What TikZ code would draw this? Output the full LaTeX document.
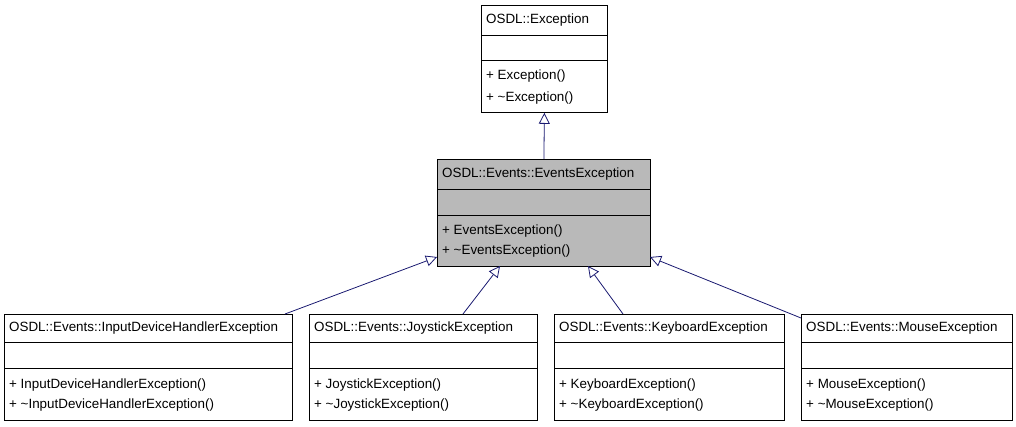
\documentclass[tikz,border=0pt]{standalone}
\usepackage{fontspec}
\setmainfont{Liberation Sans}
\usetikzlibrary{arrows.meta}
\begin{document}
\begin{tikzpicture}[x=1pt,y=-1pt,
  box/.style={draw=black,fill=white,line width=0.8pt},
  txt/.style={anchor=west,inner sep=0pt,font=\fontsize{13.4}{15}\selectfont},
  inh/.style={draw={rgb,255:red,25;green,25;blue,112},line width=0.8pt,-{Triangle[open,length=11pt,width=11pt]}}]
\useasboundingbox (0,0) rectangle (1016,427);
\newcommand{\umlbox}[9]{%
  \node[box,fill=#9,minimum width=#3-#2,minimum height=#7-#4,inner sep=0pt,anchor=north west] (#1) at (#2,#4) {};
  \draw (#2,#5) -- (#3,#5) (#2,#6) -- (#3,#6);
  \node[txt] (#1t) at (#2+5,{(#4+#5)/2}) {#8};
}
\umlbox{ex}{481}{607}{5}{35}{60}{112}{OSDL::Exception}{white}
\node[txt] (ex1) at (486,76) {+ Exception()};
\node[txt] (ex2) at (486,98) {+ \textasciitilde Exception()};
\umlbox{ev}{437}{650}{159}{189}{215}{266}{OSDL::Events::EventsException}{gray!55}
\node[txt] (ev1) at (442,231) {+ EventsException()};
\node[txt] (ev2) at (442,251) {+ \textasciitilde EventsException()};
\umlbox{a}{4}{292}{314}{342}{368}{420}{OSDL::Events::InputDeviceHandlerException}{white}
\node[txt] (a1) at (9,385) {+ InputDeviceHandlerException()};
\node[txt] (a2) at (9,405) {+ \textasciitilde InputDeviceHandlerException()};
\umlbox{b}{309}{537}{314}{342}{368}{420}{OSDL::Events::JoystickException}{white}
\node[txt] (b1) at (314,385) {+ JoystickException()};
\node[txt] (b2) at (314,405) {+ \textasciitilde JoystickException()};
\umlbox{c}{554}{784}{314}{342}{368}{420}{OSDL::Events::KeyboardException}{white}
\node[txt] (c1) at (559,385) {+ KeyboardException()};
\node[txt] (c2) at (559,405) {+ \textasciitilde KeyboardException()};
\umlbox{d}{801}{1012}{314}{342}{368}{420}{OSDL::Events::MouseException}{white}
\node[txt] (d1) at (806,385) {+ MouseException()};
\node[txt] (d2) at (806,405) {+ \textasciitilde MouseException()};
\coordinate (evL) at (437,257);
\coordinate (evR) at (650,257);
\coordinate (evB1) at (500,266);
\coordinate (evB2) at (588,266);
\draw[inh] (ev.north) -- (ex.south);
\draw[inh] (285,314) -- (evL);
\draw[inh] (463,314) -- (evB1);
\draw[inh] (623,314) -- (evB2);
\draw[inh] (801,318) -- (evR);
\end{tikzpicture}
\end{document}
